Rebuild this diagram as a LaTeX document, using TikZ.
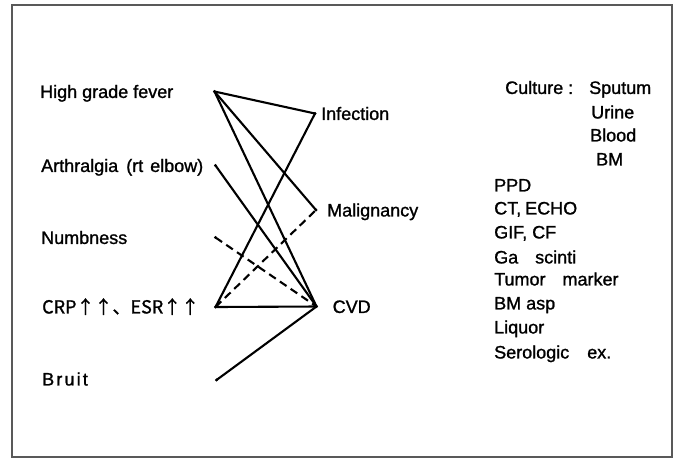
\documentclass[tikz,border=0pt]{standalone}
\usepackage{fontspec}
\setmainfont[FakeBold=1.2]{Liberation Sans}
\newfontfamily\cjkfont[FakeBold=1.2]{Noto Sans CJK JP}
\newfontfamily\spacedfont[FakeBold=1.2,LetterSpace=12]{Liberation Sans}
\begin{document}
\begin{tikzpicture}[x=1pt,y=-1pt,
  lbl/.style={anchor=west,inner sep=0pt,text height=12.9pt,text depth=0pt,font=\fontsize{18}{21}\selectfont},
  dot/.style={circle,fill=black,inner sep=0pt,minimum size=3.4pt},
  edge/.style={line width=2.1pt,line cap=round,line join=round},
  dedge/.style={edge,line cap=butt,dash pattern=on 8pt off 5pt},
  frame/.style={draw=black!65,line width=1.4pt}]
\useasboundingbox (0,0) rectangle (676,459);
\fill[white] (0,0) rectangle (676,459);
\draw[frame] (12,5) rectangle (672,457);
% left dots
\node[dot] (hgf) at (214.5,91.5) {};
\node[dot] (arth) at (215.5,165.5) {};
\node[dot] (numb) at (215.5,237.5) {};
\node[dot] (crp) at (215.5,307) {};
\node[dot] (bruit) at (216.5,380) {};
% middle dots
\node[dot] (inf) at (315,113.5) {};
\node[dot] (mal) at (316,210) {};
\node[dot] (cvd) at (316.5,306.5) {};
% left labels
\node[lbl] (thgf) at (40,91.5) {High grade fever};
\node[lbl] (tarth) at (41,165.5) {Arthralgia\hspace{3pt} (rt\hspace{2pt} elbow)};
\node[lbl] (tnumb) at (41,237.5) {Numbness};
\node[lbl] (tcrp) at (42,307) {\cjkfont CRP↑↑、ESR↑↑};
\node[lbl] (tbruit) at (42,379) {\spacedfont Bruit};
% middle labels
\node[lbl] (tinf) at (321,113.5) {Infection};
\node[lbl] (tmal) at (327,210) {Malignancy};
\node[lbl] (tcvd) at (332.5,306.5) {CVD};
% right column
\node[lbl] (tcult) at (505,87.5) {Culture :};
\node[lbl] (tsput) at (589,87.5) {Sputum};
\node[lbl] (turine) at (591,112) {Urine};
\node[lbl] (tblood) at (590,135) {Blood};
\node[lbl] (tbm) at (596,159) {BM};
\node[lbl] (tppd) at (494,185) {PPD};
\node[lbl] (tct) at (494,208) {CT,\hspace{4pt}ECHO};
\node[lbl] (tgif) at (494,232) {GIF, CF};
\node[lbl] (tga) at (494,257) {Ga\hspace{17pt}scinti};
\node[lbl] (ttum) at (494,279) {Tumor\hspace{17pt}marker};
\node[lbl] (tbma) at (494,303) {BM asp};
\node[lbl] (tliq) at (494,327) {Liquor};
\node[lbl] (tser) at (494,352) {Serologic\hspace{18pt}ex.};
% connectors
\draw[edge] (hgf.center) -- (inf.center);
\draw[edge] (hgf.center) -- (mal.center);
\draw[edge] (hgf.center) -- (cvd.center);
\draw[edge] (arth.center) -- (cvd.center);
\draw[dedge] (numb.center) -- (cvd.center);
\draw[edge] (crp.center) -- (inf.center);
\draw[dedge] (crp.center) -- (mal.center);
\draw[edge] (crp.center) -- (cvd.center);
\draw[edge] (bruit.center) -- (cvd.center);
\end{tikzpicture}
\end{document}
